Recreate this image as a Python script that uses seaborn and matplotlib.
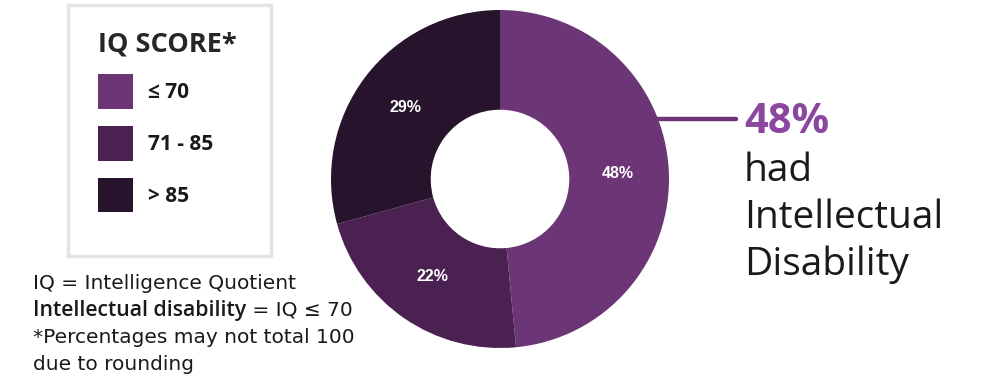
import matplotlib.pyplot as plt
import matplotlib.patches as mpatches
from matplotlib import font_manager
import seaborn as sns

# data
categories = ["\u2264 70", "71 - 85", "> 85"]
shares = [48, 22, 29]
colors = ["#6c3575", "#4a2150", "#27132b"]

sns.set_theme(style="white")
plt.rcParams['font.family'] = ['Open Sans', 'DejaVu Sans']


def font(family, weight=400, size=12):
    # pick a static face of the wanted weight (skip variable / condensed files)
    best = None
    for f in font_manager.fontManager.ttflist:
        name = f.fname.lower()
        if f.name != family or f.style != "normal" or f.stretch != "normal":
            continue
        if "cond" in name or "narrow" in name or "[" in name:
            continue
        w = f.weight if isinstance(f.weight, int) else 400
        if best is None or abs(w - weight) < abs(best[0] - weight):
            best = (w, f.fname)
    if best is None:
        return font_manager.FontProperties(family=family, size=size)
    return font_manager.FontProperties(fname=best[1], size=size)


W, H = 1002, 386
fig = plt.figure(figsize=(W / 100, H / 100), dpi=100)
fig.patch.set_facecolor("white")

def fx(x):
    return x / W

def fy(y):
    return 1 - y / H

# donut
cx, cy, r = 500, 179, 169
ax = fig.add_axes([fx(cx - r), fy(cy + r), 2 * r / W, 2 * r / H])
total = sum(shares)
wedges, _, autotexts = ax.pie(
    shares, colors=colors, startangle=90, counterclock=False,
    autopct=lambda p: "%d%%" % round(p * total / 100), pctdistance=0.7,
    wedgeprops=dict(width=0.59, linewidth=0),
    textprops=dict(color="white"))
for t in autotexts:
    t.set_fontproperties(font("Liberation Sans", 700, 11.5))
ax.set_xlim(-1, 1)
ax.set_ylim(-1, 1)
ax.set_aspect("auto")
ax.axis("off")

# connector line and callout
fig.add_artist(plt.Line2D([fx(654), fx(736)], [fy(119), fy(119)],
                          color="#6c3575", lw=3.2))
fig.text(fx(744), fy(133), "48%", color="#8b47a0",
         fontproperties=font("Open Sans", 700, 30), va="baseline", ha="left")
for i, line in enumerate(["had", "Intellectual", "Disability"]):
    fig.text(fx(744), fy(181 + 47 * i), line, color="#1a1a1a",
             fontproperties=font("Open Sans", 400, 28), va="baseline", ha="left")

# legend box
fig.add_artist(mpatches.Rectangle((fx(68), fy(256)), fx(271) - fx(68),
                                  fy(5) - fy(256), transform=fig.transFigure,
                                  fill=False, edgecolor="#e4e4e8", lw=2.5))
leg = fig.legend(wedges, categories, title="IQ SCORE*", loc="upper left",
                 bbox_to_anchor=(fx(79), fy(13)), frameon=False,
                 prop=font("Open Sans", 700, 15),
                 title_fontproperties=font("Open Sans", 700, 19.5),
                 handlelength=1.7, handleheight=2.2, labelspacing=0.8,
                 handletextpad=0.7, alignment="left")
for t in leg.get_texts():
    t.set_color("#1a1a1a")

# footnote
regular = font("DejaVu Sans", 400, 14.5)
renderer = fig.canvas.get_renderer()
fig.text(fx(33), fy(289), "IQ = Intelligence Quotient", color="#1a1a1a",
         fontproperties=regular, va="baseline", ha="left")
bold = fig.text(fx(33), fy(316), "Intellectual disability", color="#1a1a1a",
                fontproperties=font("Open Sans", 600, 15.3), va="baseline",
                ha="left")
x_end = bold.get_window_extent(renderer).x1
fig.text(x_end / W, fy(316), " = IQ \u2264 70", color="#1a1a1a",
         fontproperties=regular, va="baseline", ha="left")
for i, line in enumerate(["*Percentages may not total 100", "due to rounding"]):
    fig.text(fx(33), fy(343 + 27 * i), line, color="#1a1a1a",
             fontproperties=regular, va="baseline", ha="left")

fig.savefig("out.png", dpi=100, facecolor="white")
